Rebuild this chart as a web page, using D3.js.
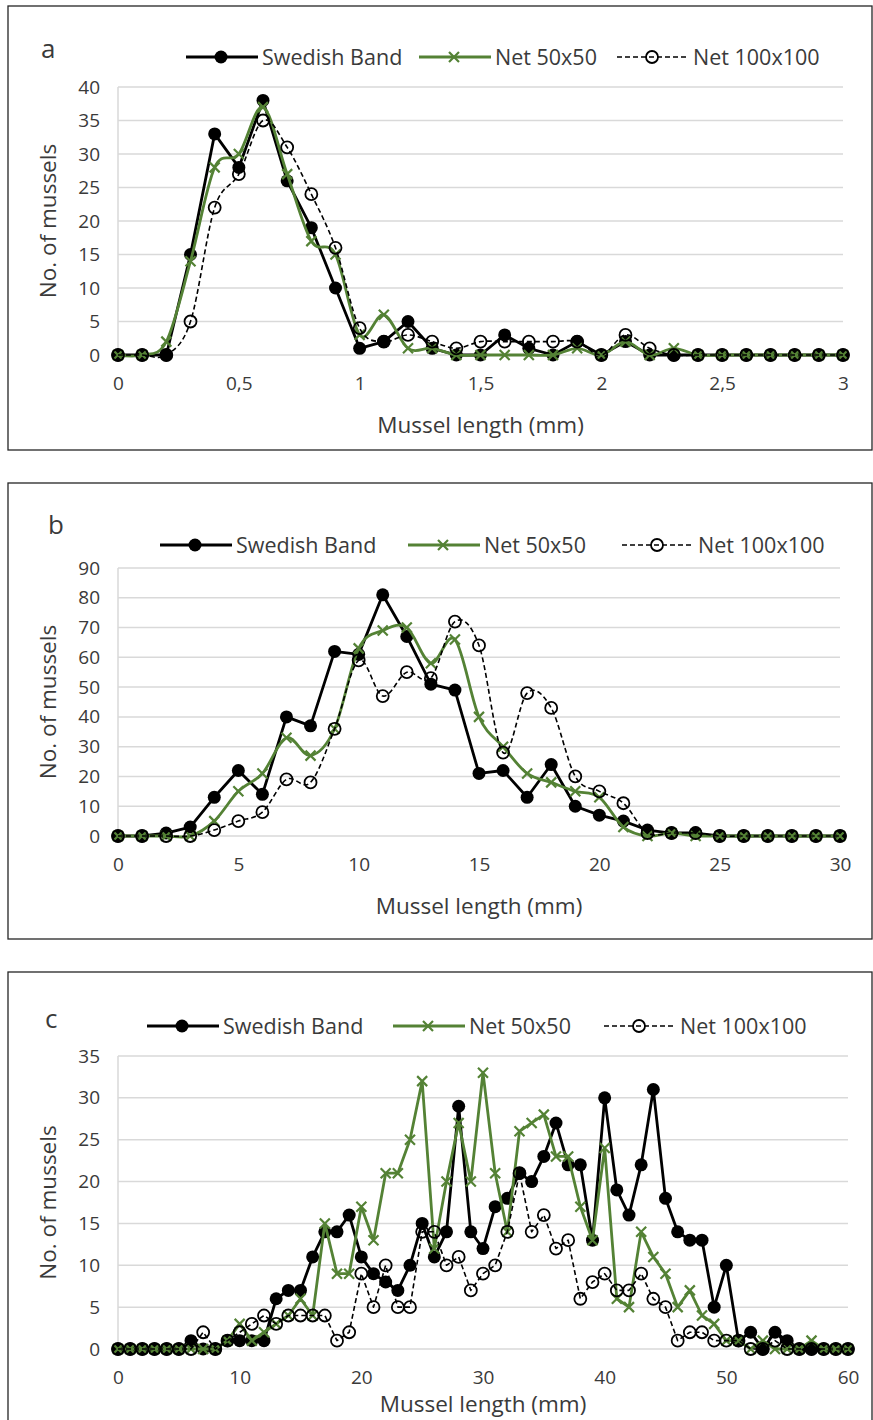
<!DOCTYPE html>
<html>
<head>
<meta charset="utf-8">
<script src="https://cdn.jsdelivr.net/npm/d3@7"></script>
<style>
  body { margin: 0; background: #fff; }
  svg { display: block; }
  text { font-family: "Open Sans", "Noto Sans", sans-serif; fill: #3a3a3a; }
</style>
</head>
<body>
<svg id="chart" width="873" height="1420"></svg>
<script>
// ---- Data ----------------------------------------------------------------
const seriesNames = ["Swedish Band", "Net 50x50", "Net 100x100"];

// Panel a: mussel length classes (mm)
const lengthsA = [0,0.1,0.2,0.3,0.4,0.5,0.6,0.7,0.8,0.9,1.0,1.1,1.2,1.3,1.4,1.5,1.6,1.7,1.8,1.9,2.0,2.1,2.2,2.3,2.4,2.5,2.6,2.7,2.8,2.9,3.0];
const swedishA = [0,0,0,15,33,28,38,26,19,10,1,2,5,1,0,0,3,1,0,2,0,2,0,0,0,0,0,0,0,0,0];
const net50A   = [0,0,2,14,28,30,37,27,17,15,3,6,1,1,0,0,0,0,0,1,0,2,0,1,0,0,0,0,0,0,0];
const net100A  = [0,0,0,5,22,27,35,31,24,16,4,2,3,2,1,2,2,2,2,2,0,3,1,0,0,0,0,0,0,0,0];
const xTicksA  = [0,0.5,1,1.5,2,2.5,3];
const yTicksA  = [0,5,10,15,20,25,30,35,40];

// Panel b
const lengthsB = [0,1,2,3,4,5,6,7,8,9,10,11,12,13,14,15,16,17,18,19,20,21,22,23,24,25,26,27,28,29,30];
const swedishB = [0,0,1,3,13,22,14,40,37,62,61,81,67,51,49,21,22,13,24,10,7,5,2,1,1,0,0,0,0,0,0];
const net50B   = [0,0,0,0,5,15,21,33,27,36,63,69,70,58,66,40,30,21,18,15,13,3,0,1,0,0,0,0,0,0,0];
const net100B  = [0,0,0,0,2,5,8,19,18,36,59,47,55,53,72,64,28,48,43,20,15,11,1,1,1,0,0,0,0,0,0];
const xTicksB  = [0,5,10,15,20,25,30];
const yTicksB  = [0,10,20,30,40,50,60,70,80,90];

// Panel c
const lengthsC = [0,1,2,3,4,5,6,7,8,9,10,11,12,13,14,15,16,17,18,19,20,21,22,23,24,25,26,27,28,29,30,
                  31,32,33,34,35,36,37,38,39,40,41,42,43,44,45,46,47,48,49,50,51,52,53,54,55,56,57,58,59,60];
const swedishC = [0,0,0,0,0,0,1,0,0,1,1,1,1,6,7,7,11,14,14,16,11,9,8,7,10,15,11,14,29,14,12,
                  17,18,21,20,23,27,22,22,13,30,19,16,22,31,18,14,13,13,5,10,1,2,0,2,1,0,0,0,0,0];
const net50C   = [0,0,0,0,0,0,0,0,0,1,3,1,2,3,4,6,4,15,9,9,17,13,21,21,25,32,12,20,27,20,33,
                  21,14,26,27,28,23,23,17,13,24,6,5,14,11,9,5,7,4,3,1,1,0,1,0,0,0,1,0,0,0];
const net100C  = [0,0,0,0,0,0,0,2,0,1,2,3,4,3,4,4,4,4,1,2,9,5,10,5,5,14,14,10,11,7,9,
                  10,14,21,14,16,12,13,6,8,9,7,7,9,6,5,1,2,2,1,1,1,0,0,1,0,0,0,0,0,0];
const xTicksC  = [0,10,20,30,40,50,60];
const yTicksC  = [0,5,10,15,20,25,30,35];

// ---- Drawing ---------------------------------------------------------------
const GREEN = "#548235";
const GRID = "#d9d9d9";
const svg = d3.select("#chart");

const panels = [
  { label: "a", lengths: lengthsA, series: [swedishA, net50A, net100A], xTicks: xTicksA, yTicks: yTicksA,
    frame: [8, 6, 864, 444], plot: { left: 118, right: 843, top: 87, bottom: 355 },
    labelPos: [41, 58], legendY: 57, legendX: [186, 419, 617], smooth: [false, true, true],
    xTitleY: 433, yTitleX: 56, decimalComma: true },
  { label: "b", lengths: lengthsB, series: [swedishB, net50B, net100B], xTicks: xTicksB, yTicks: yTicksB,
    frame: [8, 483, 864, 456], plot: { left: 118, right: 840, top: 568, bottom: 836 },
    labelPos: [48, 534], legendY: 545, legendX: [160, 408, 622], smooth: [false, true, true],
    xTitleY: 914, yTitleX: 56, decimalComma: false },
  { label: "c", lengths: lengthsC, series: [swedishC, net50C, net100C], xTicks: xTicksC, yTicks: yTicksC,
    frame: [8, 972, 864, 470], plot: { left: 118, right: 848, top: 1056, bottom: 1349 },
    labelPos: [45, 1028], legendY: 1026, legendX: [147, 393, 604], smooth: [false, false, false],
    xTitleY: 1412, yTitleX: 56, decimalComma: false }
];

function drawMarker(sel, kind) {
  if (kind === 0) {
    sel.append("circle").attr("r", 6.5).attr("fill", "#000");
  } else if (kind === 1) {
    sel.append("path").attr("d", "M-5,-5L5,5M-5,5L5,-5")
      .attr("stroke", GREEN).attr("stroke-width", 2.2).attr("fill", "none");
  } else {
    sel.append("circle").attr("r", 6).attr("fill", "none")
      .attr("stroke", "#000").attr("stroke-width", 1.8);
  }
}

function lineStyle(sel, kind) {
  if (kind === 0) sel.attr("stroke", "#000").attr("stroke-width", 2.8);
  else if (kind === 1) sel.attr("stroke", GREEN).attr("stroke-width", 2.8);
  else sel.attr("stroke", "#000").attr("stroke-width", 1.6).attr("stroke-dasharray", "5,3");
}

panels.forEach(p => {
  const g = svg.append("g");
  const [fx, fy, fw, fh] = p.frame;
  g.append("rect").attr("x", fx).attr("y", fy).attr("width", fw).attr("height", fh)
    .attr("fill", "#fff").attr("stroke", "#262626").attr("stroke-width", 1.3);

  const xMax = p.lengths[p.lengths.length - 1];
  const yMax = p.yTicks[p.yTicks.length - 1];
  const x = d3.scaleLinear().domain([0, xMax]).range([p.plot.left, p.plot.right]);
  const y = d3.scaleLinear().domain([0, yMax]).range([p.plot.bottom, p.plot.top]);

  // horizontal gridlines
  g.append("g").selectAll("line").data(p.yTicks).join("line")
    .attr("x1", p.plot.left).attr("x2", p.plot.right)
    .attr("y1", d => y(d)).attr("y2", d => y(d))
    .attr("stroke", GRID).attr("stroke-width", 1.5);
  // vertical axis line
  g.append("line").attr("x1", p.plot.left).attr("x2", p.plot.left)
    .attr("y1", p.plot.top).attr("y2", p.plot.bottom)
    .attr("stroke", GRID).attr("stroke-width", 1.5);

  // y axis labels
  const yAxis = g.append("g").attr("transform", `translate(${p.plot.left},0)`)
    .call(d3.axisLeft(y).tickValues(p.yTicks).tickSize(0).tickPadding(18));
  yAxis.select(".domain").remove();
  yAxis.selectAll("text").attr("font-size", 19).attr("font-family", "'Open Sans', sans-serif").attr("fill", "#3a3a3a");

  // x axis labels
  const fmt = d => p.decimalComma ? String(d).replace(".", ",") : String(d);
  const xAxis = g.append("g").attr("transform", `translate(0,${p.plot.bottom})`)
    .call(d3.axisBottom(x).tickValues(p.xTicks).tickFormat(fmt).tickSize(0).tickPadding(22));
  xAxis.select(".domain").remove();
  xAxis.selectAll("text").attr("font-size", 19).attr("font-family", "'Open Sans', sans-serif").attr("fill", "#3a3a3a");

  // axis titles
  g.append("text").attr("x", (p.plot.left + p.plot.right) / 2).attr("y", p.xTitleY)
    .attr("text-anchor", "middle").attr("font-size", 22.5).text("Mussel length (mm)");
  g.append("text")
    .attr("transform", `translate(${p.yTitleX},${(p.plot.top + p.plot.bottom) / 2}) rotate(-90)`)
    .attr("text-anchor", "middle").attr("font-size", 22.5).text("No. of mussels");

  // panel letter
  g.append("text").attr("x", p.labelPos[0]).attr("y", p.labelPos[1])
    .attr("font-size", 26).text(p.label);

  // series: lines then markers, in series order
  p.series.forEach((vals, k) => {
    const gen = d3.line().x((d, i) => x(p.lengths[i])).y(d => y(d))
      .curve(p.smooth[k] ? d3.curveCardinal.tension(0) : d3.curveLinear);
    g.append("path").datum(vals).attr("d", gen).attr("fill", "none")
      .attr("stroke-linejoin", "round").call(lineStyle, k);
    g.append("g").selectAll("g").data(vals).join("g")
      .attr("transform", (d, i) => `translate(${x(p.lengths[i])},${y(d)})`)
      .each(function () { drawMarker(d3.select(this), k); });
  });

  // legend
  seriesNames.forEach((name, k) => {
    const lx = p.legendX[k];
    const lg = g.append("g").attr("transform", `translate(${lx},${p.legendY})`);
    lg.append("line").attr("x1", 0).attr("x2", 72).attr("y1", 0).attr("y2", 0).call(lineStyle, k);
    const m = lg.append("g").attr("transform", "translate(35,0)");
    drawMarker(m, k);
    lg.append("text").attr("x", 76).attr("y", 0).attr("dy", "0.35em")
      .attr("font-size", 21.5).text(name);
  });
});
</script>
</body>
</html>
